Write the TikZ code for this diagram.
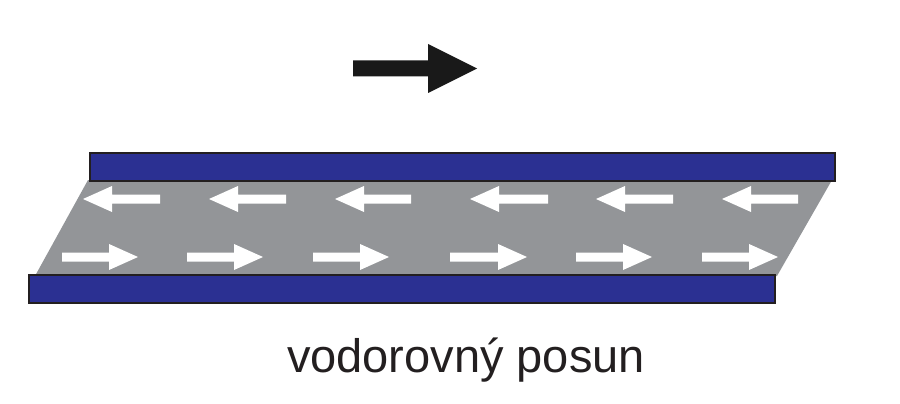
\documentclass[tikz,border=0pt]{standalone}
\usepackage{fontspec}
\setmainfont{Liberation Sans}
\definecolor{plateblue}{HTML}{2B3092}
\definecolor{plateedge}{HTML}{231F20}
\definecolor{layergray}{HTML}{939598}
\definecolor{txtgray}{HTML}{231F20}
\tikzset{
  plate/.style={fill=plateblue,draw=plateedge,line width=2pt},
  layer/.style={fill=layergray,draw=none},
  whitearrow/.style={fill=white,draw=none},
  blackarrow/.style={fill=black!90,draw=none},
  caption/.style={font=\fontsize{47}{56}\selectfont,text=txtgray,inner sep=0pt,anchor=base}
}
\begin{document}
\begin{tikzpicture}[x=1pt,y=-1pt]
\useasboundingbox (0,0) rectangle (900,404);
% sheared layer
\fill[layer] (88,180) -- (832,180) -- (777,276) -- (35,276) -- cycle;
% plates
\draw[plate] (90,153) rectangle (835,181);
\draw[plate] (29,275) rectangle (775,303);
% top row: leftward arrows (tip, tail)
\foreach \t/\e in {83/160,209/286,335/411,470/548,596/673,722/798}{
  \fill[whitearrow] (\t,199) -- (\t+29,186) -- (\t+29,194.5) -- (\e,194.5)
    -- (\e,203.5) -- (\t+29,203.5) -- (\t+29,212) -- cycle;
}
% bottom row: rightward arrows (tail, tip)
\foreach \e/\t in {62/138,187/263,313/389,450/527,576/652,702/778}{
  \fill[whitearrow] (\t,257) -- (\t-29,244) -- (\t-29,252.5) -- (\e,252.5)
    -- (\e,261.5) -- (\t-29,261.5) -- (\t-29,270) -- cycle;
}
% black direction arrow
\fill[blackarrow] (353,60.5) -- (428,60.5) -- (428,44) -- (477,68.5) -- (428,93)
  -- (428,76.5) -- (353,76.5) -- cycle;
% caption
\node[caption] (cap) at (466,372) {vodorovný posun};
\end{tikzpicture}
\end{document}
